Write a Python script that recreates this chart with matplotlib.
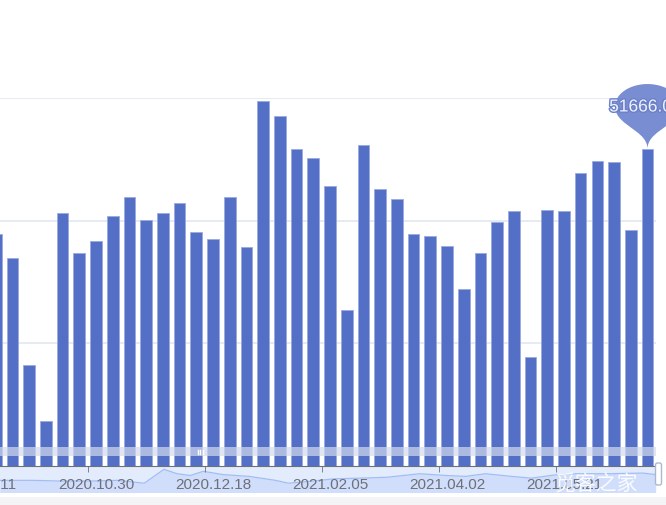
import matplotlib
matplotlib.use("Agg")
import matplotlib.pyplot as plt
import matplotlib.patheffects as pe
from matplotlib.path import Path
from matplotlib.patches import PathPatch, Rectangle, FancyBboxPatch
import numpy as np

# weekly values (visible window of the zoomed chart)
dates = ['2020.09.11', '2020.09.18', '2020.09.25', '2020.10.02', '2020.10.09', '2020.10.16',
         '2020.10.23', '2020.10.30', '2020.11.06', '2020.11.13', '2020.11.20', '2020.11.27',
         '2020.12.04', '2020.12.11', '2020.12.18', '2020.12.25', '2021.01.01', '2021.01.08',
         '2021.01.15', '2021.01.22', '2021.01.29', '2021.02.05', '2021.02.19', '2021.02.26',
         '2021.03.05', '2021.03.12', '2021.03.19', '2021.03.26', '2021.04.02', '2021.04.09',
         '2021.04.16', '2021.04.23', '2021.04.30', '2021.05.07', '2021.05.14', '2021.05.21',
         '2021.05.28', '2021.06.04', '2021.06.11', '2021.06.18', '2021.06.25']
# first category (2020.09.11) lies outside the visible plot, no bar shown for it
values = [37750, 33830, 16360, 7220, 41180, 34740, 36600, 40740, 43790, 40130,
          41180, 42810, 38170, 36930, 43790, 35620, 59560, 57060, 51620, 50250,
          45580, 25340, 52280, 45140, 43510, 37750, 37470, 35840, 28770, 34690,
          39800, 41600, 17710, 41760, 41550, 47800, 49760, 49550, 38450, 51666.09]
mark_label = '51666.09'

# data shadow in the dataZoom slider (fraction of width, level 0..1)
shadow_t = [0.0, 0.05, 0.09, 0.14, 0.18, 0.22, 0.25, 0.27, 0.29, 0.31, 0.34, 0.38, 0.42,
            0.44, 0.47, 0.51, 0.55, 0.59, 0.64, 0.68, 0.71, 0.74, 0.78, 0.81, 0.85, 0.88,
            0.93, 0.98, 1.0]
shadow_v = [0.55, 0.55, 0.52, 0.52, 0.55, 0.42, 1.05, 0.85, 0.77, 0.96, 0.81, 0.73, 0.55,
            0.42, 0.5, 0.62, 0.65, 0.69, 0.85, 0.77, 0.73, 0.85, 0.73, 0.65, 0.81, 0.85,
            0.85, 0.88, 0.81]

W, H = 666, 506
fig = plt.figure(figsize=(W / 100, H / 100), dpi=100)
fig.patch.set_facecolor('white')

step = 16.71
x0 = -4.21          # pixel of bar index 0
left_px = x0 - 1.5 * step
right_px = x0 + 39.5 * step

# background layer: slider body and page strip (pixel coordinates)
bg = fig.add_axes([0, 0, 1, 1], zorder=-2)
bg.set_xlim(0, W)
bg.set_ylim(H, 0)
bg.axis('off')
bg.add_patch(Rectangle((0, 467), right_px, 26.5, facecolor='#e3ecfd', edgecolor='none'))
bg.add_patch(Rectangle((0, 498), W, 8, facecolor='#f4f4f6', edgecolor='none'))

# data shadow of the slider
sl = fig.add_axes([0, (H - 493.5) / H, right_px / W, 26.5 / H], zorder=-1)
sl.set_xlim(0, 1)
sl.set_ylim(0, 1.2)
sl.axis('off')
sl.patch.set_alpha(0)
sl.fill_between(shadow_t, 0, shadow_v, color='#8fb0f7', alpha=0.22, lw=0)
sl.plot(shadow_t, shadow_v, color='#a3bdf4', lw=0.9)

# main grid; categories indexed from -1 (2020.09.11)
ax = fig.add_axes([left_px / W, (H - 466.5) / H, (right_px - left_px) / W, 367.5 / H])
ax.set_facecolor('none')
idx = np.arange(len(values))
ax.bar(idx, values, width=0.7, color='#5470c6', edgecolor='#9aaae0', linewidth=0.6, zorder=3)
ax.set_xlim(-1.5, 39.5)
ax.set_ylim(0, 60000)
ax.set_yticks([20000, 40000, 60000])
ax.yaxis.grid(True, color='#e0e6f1', linewidth=1.2)
ax.set_axisbelow(True)
ax.tick_params(axis='y', left=False, labelleft=False)
for s in ['top', 'right', 'left']:
    ax.spines[s].set_visible(False)
ax.spines['bottom'].set_color('#6e7079')
ax.spines['bottom'].set_zorder(6)

lab_pos = list(range(-1, 40, 7))
ax.set_xticks(lab_pos)
ax.set_xticklabels([dates[p + 1] for p in lab_pos], family='Liberation Sans',
                   fontsize=11, color='#6e7079')
ax.set_xticks([p - 0.5 for p in lab_pos], minor=True)
ax.tick_params(axis='x', which='major', length=0, pad=8)
ax.tick_params(axis='x', which='minor', length=4, color='#6e7079', direction='out')

# top layer: move handle, handle, pin, watermark
ov = fig.add_axes([0, 0, 1, 1], zorder=5)
ov.set_xlim(0, W)
ov.set_ylim(H, 0)
ov.axis('off')
ov.patch.set_alpha(0)

ov.add_patch(Rectangle((0, 448), right_px, 9, facecolor='#d2dbee', alpha=0.7,
                       edgecolor='none', zorder=2))
for gx in (197.5, 200, 202.5):
    ov.plot([gx, gx], [450.5, 454.5], color='white', lw=1.0, zorder=3)
ov.add_patch(FancyBboxPatch((655.5, 464), 6, 22, boxstyle='round,pad=0,rounding_size=2',
                            facecolor='white', edgecolor='#acb8d1', lw=1, zorder=4))

# pin marker on last bar (echarts pin geometry, canvas y downwards)
tip = ax.transData.transform((idx[-1], values[-1]))
tx, ty = tip[0], H - tip[1]
r = 15.0
h = 50.0
dy = r * r / (h - r)
cy = -h + r + dy
ang = np.arcsin(dy / r)
dx = np.cos(ang) * r
tanx, tany = np.sin(ang), np.cos(ang)
cp1, cp2 = r * 0.6, r * 0.7
th = np.linspace(np.pi - ang, 2 * np.pi + ang, 60)
pts = [(np.cos(t) * r, cy + np.sin(t) * r) for t in th]
verts = pts + [(dx - tanx * cp1, cy + dy + tany * cp1), (0, -cp2), (0, 0),
               (0, -cp2), (-dx + tanx * cp1, cy + dy + tany * cp1), (-dx, cy + dy)]
codes = [Path.MOVETO] + [Path.LINETO] * (len(pts) - 1) + [Path.CURVE4] * 6
sx, sy = 32.5 / r, 65.0 / (r - cy)
verts = [(tx + vx * sx, ty + vy * sy) for vx, vy in verts]
ov.add_patch(PathPatch(Path(verts, codes), facecolor='#788dd2', edgecolor='none', zorder=6))
ov.text(tx - 2, 108, mark_label, family='Liberation Sans', fontsize=12.5, color='#eef1fb',
        ha='center', va='center', zorder=7,
        path_effects=[pe.withStroke(linewidth=2, foreground='#6c80c9')])

# watermark
ov.text(596, 485, '觅客之家', family=['Noto Sans CJK SC', 'DejaVu Sans'], fontsize=15,
        color='white', alpha=0.9, ha='center', va='center', zorder=8)

fig.savefig('out.png', dpi=100)
